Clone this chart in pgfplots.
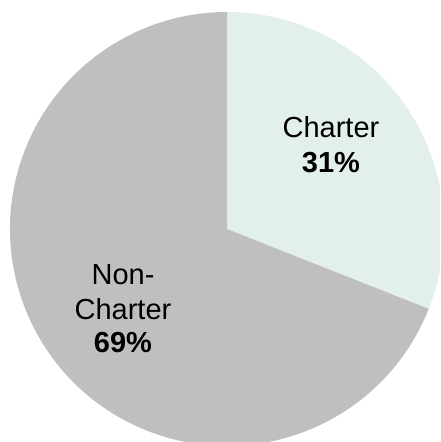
\documentclass[border=0pt]{standalone}
\usepackage{pgfplots}
\pgfplotsset{compat=1.18}
\usepackage{pgfplotstable}
\usepackage{fontspec}
\setmainfont{Liberation Sans}

\definecolor{charterc}{RGB}{226,240,233}
\definecolor{otherc}{RGB}{191,191,191}

% share of schools, percent
\pgfplotstableread{
label value
Charter 31
NonCharter 69
}\piedata

\begin{document}
\begin{tikzpicture}
\pgfplotstablegetelem{0}{value}\of\piedata
\let\vA\pgfplotsretval
\pgfmathsetmacro\angA{90-3.6*\vA}
\useasboundingbox (0,0) rectangle (440pt,442pt);
\clip (0,0) rectangle (440pt,442pt);
\begin{axis}[
    at={(0,0)}, anchor=south west,
    scale only axis, x=1pt, y=1pt,
    xmin=0, xmax=440, ymin=0, ymax=442,
    hide axis, clip=false,
    font=\fontsize{29}{34}\selectfont
]
    \fill[charterc] (axis cs:227,213) -- ++(90:217pt)
        arc[start angle=90, end angle=\angA, radius=217pt] -- cycle;
    \fill[otherc] (axis cs:227,213) -- ++(\angA:217pt)
        arc[start angle=\angA, end angle=-270, radius=217pt] -- cycle;

    \node[anchor=base] at (axis cs:331,304) {Charter};
    \node[anchor=base] at (axis cs:331,269) {\textbf{31\%}};
    \node[anchor=base] at (axis cs:123,157) {Non-};
    \node[anchor=base] at (axis cs:123,122) {Charter};
    \node[anchor=base] at (axis cs:123,89) {\textbf{69\%}};
\end{axis}
\end{tikzpicture}
\end{document}
